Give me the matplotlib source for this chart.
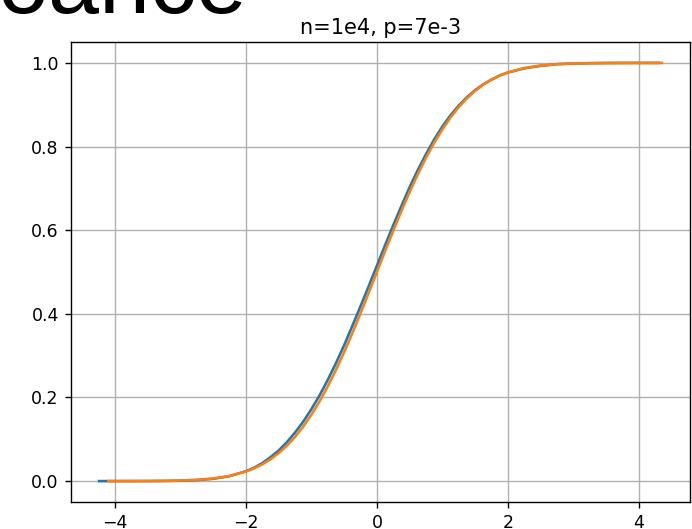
import matplotlib
matplotlib.use('Agg')
import matplotlib.pyplot as plt

# the screenshot is a matplotlib figure scaled up by about 1.25
scale = 1.25
plt.rcParams['font.size'] = 10 * scale
plt.rcParams['axes.titlesize'] = 12 * scale
plt.rcParams['axes.linewidth'] = 0.8 * scale
plt.rcParams['grid.linewidth'] = 0.8 * scale
plt.rcParams['lines.linewidth'] = 1.5 * scale
plt.rcParams['xtick.major.size'] = 3.5 * scale
plt.rcParams['ytick.major.size'] = 3.5 * scale
plt.rcParams['xtick.major.width'] = 0.8 * scale
plt.rcParams['ytick.major.width'] = 0.8 * scale
plt.rcParams['xtick.major.pad'] = 3.5 * scale
plt.rcParams['ytick.major.pad'] = 3.5 * scale

title = 'n=1e4, p=7e-3'
heading = 'oance'

blue_x = [-4.24, -3.75, -3.5, -3.25, -3.0, -2.75, -2.5, -2.25,
          -2.0, -1.875, -1.75, -1.625, -1.5, -1.375, -1.25, -1.125,
          -1.0, -0.875, -0.75, -0.625, -0.5, -0.375, -0.25, -0.125,
          0.0, 0.125, 0.25, 0.375, 0.5, 0.625, 0.75, 0.875,
          1.0, 1.125, 1.25, 1.375, 1.5, 1.625, 1.75, 1.875,
          2.0, 2.25, 2.5, 2.75, 3.0, 3.25, 3.5, 3.75, 4.0, 4.3]
blue_y = [0.0, 0.0, 0.0001, 0.0003, 0.0009, 0.0024, 0.0055, 0.0118,
          0.0235, 0.032, 0.043, 0.057, 0.073, 0.093, 0.116, 0.142,
          0.172, 0.205, 0.242, 0.282, 0.325, 0.371, 0.418, 0.466,
          0.515, 0.564, 0.612, 0.658, 0.703, 0.744, 0.782, 0.817,
          0.848, 0.875, 0.898, 0.918, 0.935, 0.949, 0.960, 0.970,
          0.977, 0.987, 0.993, 0.997, 0.9985, 0.9993, 0.9997, 0.9999, 1.0, 1.0]

# orange curve (normal cdf)
orange_x = [-4.1, -3.75, -3.5, -3.25, -3.0, -2.75, -2.5, -2.25,
            -2.0, -1.875, -1.75, -1.625, -1.5, -1.375, -1.25, -1.125,
            -1.0, -0.875, -0.75, -0.625, -0.5, -0.375, -0.25, -0.125,
            0.0, 0.125, 0.25, 0.375, 0.5, 0.625, 0.75, 0.875,
            1.0, 1.125, 1.25, 1.375, 1.5, 1.625, 1.75, 1.875,
            2.0, 2.25, 2.5, 2.75, 3.0, 3.25, 3.5, 3.75, 4.0, 4.35]
orange_y = [0.0, 0.0001, 0.0002, 0.0006, 0.0013, 0.003, 0.0062, 0.0122,
            0.0228, 0.0304, 0.0401, 0.0521, 0.0668, 0.0846, 0.1056, 0.1303,
            0.1587, 0.1908, 0.2266, 0.2660, 0.3085, 0.3538, 0.4013, 0.4503,
            0.5, 0.5497, 0.5987, 0.6462, 0.6915, 0.7340, 0.7734, 0.8092,
            0.8413, 0.8697, 0.8944, 0.9154, 0.9332, 0.9479, 0.9599, 0.9696,
            0.9772, 0.9878, 0.9938, 0.997, 0.9987, 0.9994, 0.9998, 0.9999, 1.0, 1.0]

fig = plt.figure(figsize=(6.92, 5.29), dpi=100)
ax = fig.add_axes([71 / 692, 27 / 529, 619 / 692, 460 / 529])

ax.plot(blue_x, blue_y, color='#1f77b4')
ax.plot(orange_x, orange_y, color='#ff7f0e')
ax.set_title(title)
ax.grid(True)

# slide heading cut off at the top of the screenshot
fig.text(-3 / 692, 1 - 13 / 529, heading, fontsize=66, family='Liberation Sans',
         ha='left', va='baseline')

fig.savefig('out.png', dpi=100)
